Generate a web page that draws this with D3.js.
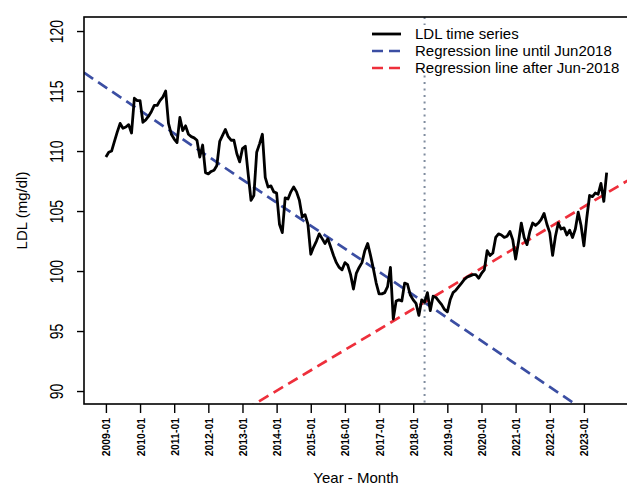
<!DOCTYPE html>
<html>
<head>
<meta charset="utf-8">
<script src="https://cdn.jsdelivr.net/npm/d3@7"></script>
<style>
  body { margin: 0; background: #fff; }
  svg { display: block; font-family: "Liberation Sans", Arial, Helvetica, sans-serif; }
</style>
</head>
<body>
<svg class="chart" width="627" height="486"></svg>
<script>
// monthly LDL values, 2009-01 .. 2023-09
var ldl = [
  109.5, 109.9, 110.0, 110.8, 111.6, 112.3, 111.9, 112.0, 112.2, 111.5, 114.4, 114.2,
  114.2, 112.4, 112.6, 112.9, 113.3, 113.8, 113.8, 114.2, 114.5, 115.0, 112.3, 111.4,
  111.0, 110.7, 112.8, 111.7, 112.1, 111.4, 111.2, 111.1, 110.9, 109.5, 110.5, 108.2,
  108.1, 108.3, 108.4, 108.8, 110.8, 111.3, 111.8, 111.2, 110.9, 110.9, 109.8, 109.1,
  110.2, 110.4, 108.1, 105.9, 106.3, 109.9, 110.6, 111.4, 107.8, 107.0, 107.1, 106.6,
  106.5, 103.9, 103.2, 106.1, 106.0, 106.6, 107.0, 106.6, 105.9, 104.5, 104.7, 103.9,
  101.4, 102.0, 102.5, 103.1, 102.7, 102.3, 102.7, 102.0, 101.3, 100.7, 100.3, 100.1,
  100.7, 100.5, 99.7, 98.5, 99.8, 100.3, 100.7, 101.7, 102.3, 101.3, 100.2, 99.0,
  98.1, 98.1, 98.2, 98.7, 100.3, 96.0, 97.5, 97.6, 97.5, 99.0, 98.9, 98.0,
  97.6, 97.3, 96.3, 97.6, 97.4, 98.2, 96.7, 97.9, 97.8, 97.5, 97.2, 96.8,
  96.6, 97.6, 98.2, 98.4, 98.7, 99.0, 99.3, 99.5, 99.6, 99.7, 99.7, 99.4,
  99.8, 100.1, 101.7, 101.3, 101.5, 102.8, 103.1, 103.0, 102.8, 102.9, 103.3, 102.6,
  101.0, 102.4, 104.0, 102.8, 102.2, 103.3, 104.0, 103.8, 104.0, 104.3, 104.8, 103.9,
  103.2, 101.3, 102.9, 104.0, 103.5, 103.6, 103.0, 103.4, 102.8, 103.5, 104.9, 103.8,
  102.1, 104.4, 106.3, 106.2, 106.5, 106.4, 107.3, 105.8, 108.2
];

var tickLabels = ["2009-01", "2010-01", "2011-01", "2012-01", "2013-01", "2014-01", "2015-01",
                  "2016-01", "2017-01", "2018-01", "2019-01", "2020-01", "2021-01", "2022-01", "2023-01"];
var tickMonths = [0, 12, 24, 36, 48, 60, 72, 84, 96, 108, 120, 132, 144, 156, 168];
var yTicks = [90, 95, 100, 105, 110, 115, 120];

// regression fits: [intercept at month 0, slope per month]
var fitBefore = [115.3, -0.16];
var fitAfter = [81.5, 0.142];
var breakMonth = 112;

var legendLabels = ["LDL time series", "Regression line until Jun2018", "Regression line after Jun-2018"];
var legendColors = ["#000000", "#3b4ea3", "#ee2f3b"];

var plotLeft = 84, plotRight = 628, plotTop = 17, plotBottom = 404;

var x = d3.scaleLinear().domain([-7.7, 183.5]).range([plotLeft, plotRight]);
var y = d3.scaleLinear().domain([88.92, 121.17]).range([plotBottom, plotTop]);

var svg = d3.select(".chart");

svg.append("clipPath").attr("id", "plotClip")
   .append("rect")
     .attr("x", plotLeft).attr("y", plotTop)
     .attr("width", plotRight - plotLeft).attr("height", plotBottom - plotTop);

var plot = svg.append("g").attr("clip-path", "url(#plotClip)");

// regression lines drawn across the whole x range (abline style)
var fits = [fitBefore, fitAfter];
plot.selectAll("line.fit")
    .data(fits)
    .enter().append("line")
      .attr("class", "fit")
      .attr("x1", function(){ return x(x.domain()[0]); })
      .attr("y1", function(d){ return y(d[0] + d[1] * x.domain()[0]); })
      .attr("x2", function(){ return x(x.domain()[1]); })
      .attr("y2", function(d){ return y(d[0] + d[1] * x.domain()[1]); })
      .attr("stroke", function(d, i){ return legendColors[i + 1]; })
      .attr("stroke-width", 2.7)
      .attr("stroke-dasharray", "11,6");

plot.append("line")
    .attr("x1", x(breakMonth)).attr("x2", x(breakMonth))
    .attr("y1", plotTop).attr("y2", plotBottom)
    .attr("stroke", "#7f8c9e")
    .attr("stroke-width", 2)
    .attr("stroke-dasharray", "2,4.5");

var line = d3.line()
             .x(function(d, i){ return x(i); })
             .y(function(d){ return y(d); });

plot.append("path")
    .datum(ldl)
    .attr("d", line)
    .attr("fill", "none")
    .attr("stroke", "#000")
    .attr("stroke-width", 2.8)
    .attr("stroke-linejoin", "round");

// box (right edge falls just outside the picture)
svg.append("rect")
   .attr("x", plotLeft).attr("y", plotTop)
   .attr("width", plotRight - plotLeft).attr("height", plotBottom - plotTop)
   .attr("fill", "none")
   .attr("stroke", "#000")
   .attr("stroke-width", 1.6);

// y axis
var yAxis = svg.append("g")
               .attr("transform", "translate(" + plotLeft + ",0)")
               .call(d3.axisLeft(y).tickValues(yTicks).tickSize(7).tickSizeOuter(0));
yAxis.select(".domain").remove();
yAxis.selectAll("line").attr("stroke-width", 1.4);
yAxis.selectAll("text")
     .attr("x", null).attr("dy", null)
     .attr("transform", "translate(-21,0) scale(1.25,1) rotate(-90)")
     .attr("text-anchor", "middle")
     .attr("fill", "#000")
     .style("font-size", "14px");

// x axis
var xAxis = svg.append("g")
               .attr("transform", "translate(0," + plotBottom + ")")
               .call(d3.axisBottom(x).tickValues(tickMonths)
                        .tickFormat(function(d, i){ return tickLabels[i]; })
                        .tickSize(9).tickSizeOuter(0));
xAxis.select(".domain").remove();
xAxis.selectAll("line").attr("stroke-width", 1.4);
xAxis.selectAll("text")
     .attr("y", null).attr("dy", null)
     .attr("transform", "translate(4,14) scale(1,0.95) rotate(-90)")
     .attr("text-anchor", "end")
     .attr("fill", "#000")
     .style("font-size", "11px")
     .style("font-weight", "bold");

// axis titles
svg.append("text")
   .attr("x", (plotLeft + plotRight) / 2)
   .attr("y", 483)
   .attr("text-anchor", "middle")
   .style("font-size", "15px")
   .text("Year - Month");

svg.append("text")
   .attr("transform", "translate(27," + ((plotTop + plotBottom) / 2) + ") rotate(-90)")
   .attr("text-anchor", "middle")
   .style("font-size", "15px")
   .text("LDL (mg/dl)");

// legend
var legend = svg.append("g");
legend.append("rect")
      .attr("x", 363).attr("y", 25)
      .attr("width", 264).attr("height", 50)
      .attr("fill", "#fff");

var rows = legend.selectAll("g.row")
                 .data(legendLabels)
                 .enter().append("g")
                   .attr("class", "row")
                   .attr("transform", function(d, i){ return "translate(0," + (34 + i * 17) + ")"; });

rows.append("line")
    .attr("x1", 372).attr("x2", 401)
    .attr("y1", 0).attr("y2", 0)
    .attr("stroke", function(d, i){ return legendColors[i]; })
    .attr("stroke-width", function(d, i){ return i === 0 ? 2.8 : 2.7; })
    .attr("stroke-dasharray", function(d, i){ return i === 0 ? null : "11,6"; });

rows.append("text")
    .attr("x", 415)
    .attr("y", 5)
    .style("font-size", "15px")
    .text(function(d){ return d; });
</script>
</body>
</html>
